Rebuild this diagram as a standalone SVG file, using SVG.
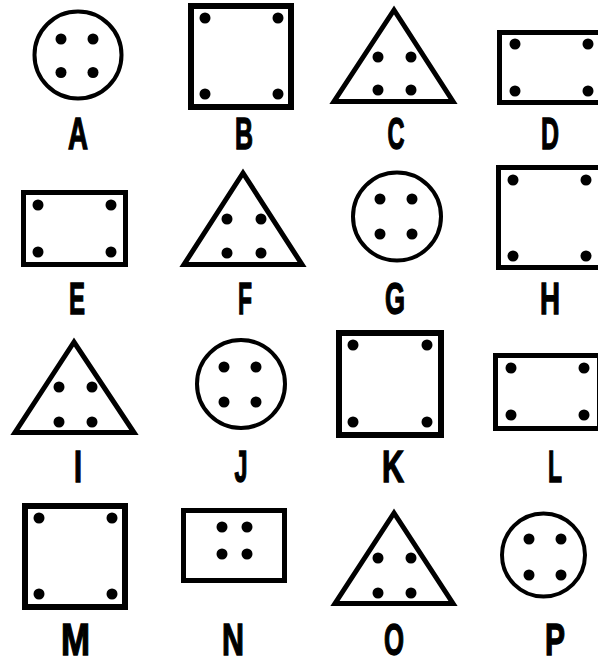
<svg xmlns="http://www.w3.org/2000/svg" width="598" height="661" viewBox="0 0 598 661">
<style>
.s{fill:#fff;stroke:#000;stroke-linejoin:miter}
.c{stroke-width:4}
.q{stroke-width:6}
.r{stroke-width:5}
.t{stroke-width:5}
.d{fill:#000}
.l{font-family:"Liberation Sans Narrow","Liberation Sans","DejaVu Sans Condensed",sans-serif;font-weight:bold;font-size:45px;fill:#000;stroke:#000;stroke-width:1.4;text-anchor:middle}
</style>
<rect width="598" height="661" fill="#fff"/>
<g id="A"><circle class="s c" cx="78" cy="55" r="43.5"/><g class="d"><circle cx="61" cy="39" r="5.5"/><circle cx="93" cy="39" r="5.5"/><circle cx="61" cy="72.5" r="5.5"/><circle cx="93" cy="72.5" r="5.5"/></g><text class="l" x="78" y="149" textLength="20" lengthAdjust="spacingAndGlyphs">A</text></g>
<g id="B"><rect class="s q" x="191" y="6" width="100" height="101"/><g class="d"><circle cx="205" cy="18" r="5.5"/><circle cx="278" cy="18" r="5.5"/><circle cx="205" cy="94" r="5.5"/><circle cx="278" cy="94" r="5.5"/></g><text class="l" x="244" y="149" textLength="18" lengthAdjust="spacingAndGlyphs">B</text></g>
<g id="C"><polygon class="s t" points="394,10 334,101.5 453,101.5"/><g class="d"><circle cx="378" cy="57" r="5.5"/><circle cx="411" cy="57" r="5.5"/><circle cx="378" cy="90" r="5.5"/><circle cx="411" cy="90" r="5.5"/></g><text class="l" x="396" y="149" textLength="17" lengthAdjust="spacingAndGlyphs">C</text></g>
<g id="D"><rect class="s r" x="499.5" y="32.5" width="104" height="70"/><g class="d"><circle cx="515" cy="44" r="5.5"/><circle cx="588" cy="44" r="5.5"/><circle cx="515" cy="91" r="5.5"/><circle cx="588" cy="91" r="5.5"/></g><text class="l" x="550" y="149" textLength="18" lengthAdjust="spacingAndGlyphs">D</text></g>
<g id="E"><rect class="s r" x="23.5" y="192.5" width="102" height="72"/><g class="d"><circle cx="38" cy="205" r="5.5"/><circle cx="111" cy="205" r="5.5"/><circle cx="38" cy="252" r="5.5"/><circle cx="111" cy="252" r="5.5"/></g><text class="l" x="77" y="314" textLength="16" lengthAdjust="spacingAndGlyphs">E</text></g>
<g id="F"><polygon class="s t" points="243,173 184,264.5 302,264.5"/><g class="d"><circle cx="227" cy="219" r="5.5"/><circle cx="261" cy="219" r="5.5"/><circle cx="227" cy="253" r="5.5"/><circle cx="261" cy="253" r="5.5"/></g><text class="l" x="245" y="314" textLength="14" lengthAdjust="spacingAndGlyphs">F</text></g>
<g id="G"><circle class="s c" cx="397" cy="216.5" r="44"/><g class="d"><circle cx="380" cy="199" r="5.5"/><circle cx="412" cy="199" r="5.5"/><circle cx="380" cy="234" r="5.5"/><circle cx="412" cy="234" r="5.5"/></g><text class="l" x="395" y="314" textLength="20" lengthAdjust="spacingAndGlyphs">G</text></g>
<g id="H"><rect class="s r" x="498.5" y="167.5" width="102" height="100"/><g class="d"><circle cx="513" cy="180" r="5.5"/><circle cx="586" cy="180" r="5.5"/><circle cx="513" cy="256" r="5.5"/><circle cx="586" cy="256" r="5.5"/></g><text class="l" x="550" y="314" textLength="20" lengthAdjust="spacingAndGlyphs">H</text></g>
<g id="I"><polygon class="s t" points="74,342 15,432.5 134,432.5"/><g class="d"><circle cx="59" cy="387" r="5.5"/><circle cx="92" cy="387" r="5.5"/><circle cx="59" cy="422" r="5.5"/><circle cx="92" cy="422" r="5.5"/></g><text class="l" x="78" y="482" textLength="8" lengthAdjust="spacingAndGlyphs">I</text></g>
<g id="J"><circle class="s c" cx="241" cy="384" r="44"/><g class="d"><circle cx="224" cy="367" r="5.5"/><circle cx="256" cy="367" r="5.5"/><circle cx="224" cy="402" r="5.5"/><circle cx="256" cy="402" r="5.5"/></g><text class="l" x="241" y="482" textLength="13" lengthAdjust="spacingAndGlyphs">J</text></g>
<g id="K"><rect class="s q" x="339" y="333" width="102" height="102"/><g class="d"><circle cx="353" cy="345" r="5.5"/><circle cx="427" cy="345" r="5.5"/><circle cx="353" cy="422" r="5.5"/><circle cx="427" cy="422" r="5.5"/></g><text class="l" x="393" y="482" textLength="22" lengthAdjust="spacingAndGlyphs">K</text></g>
<g id="L"><rect class="s r" x="495.5" y="355.5" width="104" height="73"/><g class="d"><circle cx="511" cy="368" r="5.5"/><circle cx="584" cy="368" r="5.5"/><circle cx="511" cy="415" r="5.5"/><circle cx="584" cy="415" r="5.5"/></g><text class="l" x="555" y="482" textLength="14" lengthAdjust="spacingAndGlyphs">L</text></g>
<g id="M"><rect class="s q" x="25" y="506" width="100" height="101"/><g class="d"><circle cx="39" cy="518" r="5.5"/><circle cx="112" cy="518" r="5.5"/><circle cx="39" cy="594" r="5.5"/><circle cx="112" cy="594" r="5.5"/></g><text class="l" x="75.5" y="655" textLength="29" lengthAdjust="spacingAndGlyphs">M</text></g>
<g id="N"><rect class="s r" x="183.5" y="510.5" width="101" height="70"/><g class="d"><circle cx="222" cy="527" r="5.5"/><circle cx="247" cy="527" r="5.5"/><circle cx="222" cy="554" r="5.5"/><circle cx="247" cy="554" r="5.5"/></g><text class="l" x="233" y="655" textLength="22" lengthAdjust="spacingAndGlyphs">N</text></g>
<g id="O"><polygon class="s t" points="394,513 335,603.5 453,603.5"/><g class="d"><circle cx="378" cy="558" r="5.5"/><circle cx="411" cy="558" r="5.5"/><circle cx="378" cy="593" r="5.5"/><circle cx="411" cy="593" r="5.5"/></g><text class="l" x="394" y="655" textLength="20" lengthAdjust="spacingAndGlyphs">O</text></g>
<g id="P"><circle class="s c" cx="543.5" cy="555" r="41.5"/><g class="d"><circle cx="529" cy="539" r="5.5"/><circle cx="561" cy="539" r="5.5"/><circle cx="529" cy="575" r="5.5"/><circle cx="561" cy="575" r="5.5"/></g><text class="l" x="555" y="655" textLength="20" lengthAdjust="spacingAndGlyphs">P</text></g>
<g id="connectors"/>
</svg>
